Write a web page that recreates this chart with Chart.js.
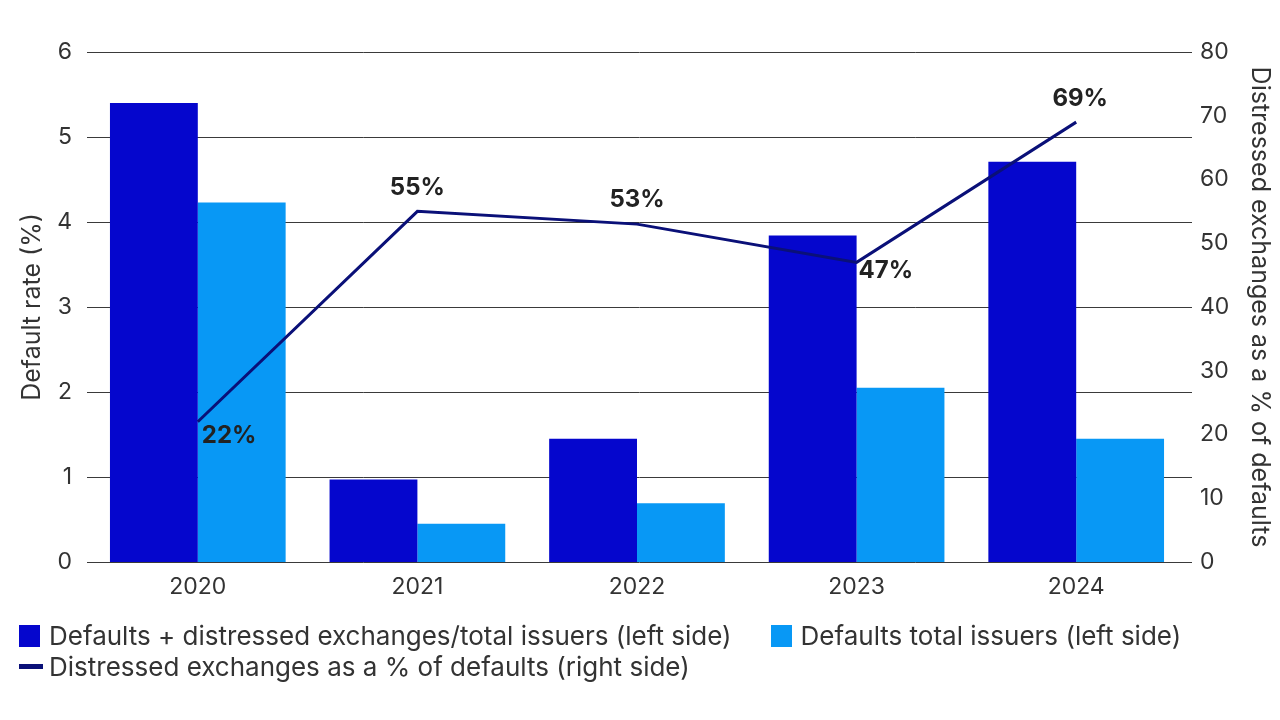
<!DOCTYPE html>
<html>
<head>
<meta charset="utf-8">
<script src="https://cdn.jsdelivr.net/npm/chart.js@4.4.1/dist/chart.umd.min.js"></script>
<style>
  html, body { margin: 0; padding: 0; background: #fff; }
  #wrap { position: relative; width: 1280px; height: 720px; }
  #legend {
    position: absolute; left: 19px; top: 620px;
    font-family: Inter, "Noto Sans", sans-serif; font-size: 26px; color: #333;
  }
  .row { display: flex; align-items: center; height: 31px; white-space: nowrap; }
  .item { display: flex; align-items: center; margin-right: 39px; }
  .sw { display: inline-block; width: 21px; height: 22px; margin-right: 9px; }
  .ln { display: inline-block; width: 24px; height: 5px; margin-right: 6px; }
</style>
</head>
<body>
<div id="wrap">
  <canvas id="chart" width="1280" height="720"></canvas>
  <div id="legend"></div>
</div>
<script>
  const years = ["2020", "2021", "2022", "2023", "2024"];
  const defaultsPlusExchanges = [5.4, 0.97, 1.45, 3.84, 4.71];
  const defaultsTotal = [4.23, 0.45, 0.69, 2.05, 1.45];
  const exchangesPctOfDefaults = [22, 55, 53, 47, 69];
  const leftTicks = [0, 1, 2, 3, 4, 5, 6];
  const rightTicks = [0, 10, 20, 30, 40, 50, 60, 70, 80];

  const colors = {
    dark: "#0506cd",
    light: "#0898f5",
    line: "#0a1078",
    grid: "#3a3a3a",
    text: "#333333"
  };

  const seriesNames = [
    "Defaults + distressed exchanges/total issuers (left side)",
    "Defaults total issuers (left side)",
    "Distressed exchanges as a % of defaults (right side)"
  ];

  // label offsets around each line point: [dx, dy, align]
  const labelPos = [
    [4, 14, "left"],
    [0, -24, "center"],
    [0, -24, "center"],
    [2, 8, "left"],
    [4, -23, "center"]
  ];

  const gridPlugin = {
    id: "extGrid",
    beforeDatasetsDraw(chart) {
      const { ctx, chartArea, scales } = chart;
      ctx.save();
      ctx.strokeStyle = colors.grid;
      ctx.lineWidth = 1;
      leftTicks.forEach(v => {
        const y = Math.round(scales.y.getPixelForValue(v)) + 0.5;
        ctx.beginPath();
        ctx.moveTo(chartArea.left - 1, y);
        ctx.lineTo(chartArea.right + 6, y);
        ctx.stroke();
      });
      ctx.restore();
    }
  };

  const labelPlugin = {
    id: "lineLabels",
    afterDatasetsDraw(chart) {
      const { ctx } = chart;
      const meta = chart.getDatasetMeta(0);
      ctx.save();
      ctx.font = "bold 24px Inter, 'Noto Sans', sans-serif";
      ctx.fillStyle = "#222";
      ctx.textBaseline = "middle";
      meta.data.forEach((pt, i) => {
        const [dx, dy, align] = labelPos[i];
        ctx.textAlign = align;
        ctx.fillText(exchangesPctOfDefaults[i] + "%", pt.x + dx, pt.y + dy);
      });
      ctx.restore();
    }
  };

  const tickFont = { family: "Inter, 'Noto Sans', sans-serif", size: 23 };
  const titleFont = { family: "Inter, 'Noto Sans', sans-serif", size: 25 };

  new Chart(document.getElementById("chart"), {
    type: "bar",
    data: {
      labels: years,
      datasets: [
        {
          type: "line", label: seriesNames[2], data: exchangesPctOfDefaults,
          yAxisID: "y1", borderColor: colors.line, borderWidth: 3,
          pointRadius: 0, tension: 0, order: 0
        },
        {
          label: seriesNames[0], data: defaultsPlusExchanges, yAxisID: "y",
          backgroundColor: colors.dark, order: 1,
          categoryPercentage: 0.8, barPercentage: 1.0
        },
        {
          label: seriesNames[1], data: defaultsTotal, yAxisID: "y",
          backgroundColor: colors.light, order: 1,
          categoryPercentage: 0.8, barPercentage: 1.0
        }
      ]
    },
    options: {
      responsive: false,
      animation: false,
      layout: { padding: { left: 0, right: 0, top: 52, bottom: 111 } },
      plugins: { legend: { display: false }, tooltip: { enabled: false } },
      scales: {
        x: {
          grid: { display: false, drawTicks: false },
          border: { display: false },
          ticks: { color: colors.text, font: tickFont, padding: 11 },
          afterFit: s => { s.height = 47; }
        },
        y: {
          position: "left", min: 0, max: 6,
          afterBuildTicks: s => { s.ticks = leftTicks.map(v => ({ value: v })); },
          afterFit: s => { s.width = 88; },
          grid: { display: false, drawTicks: false },
          border: { display: false },
          ticks: { color: colors.text, font: tickFont, padding: 16 },
          title: { display: true, text: "Default rate (%)", color: colors.text, font: titleFont, padding: { top: 17, bottom: 0 } }
        },
        y1: {
          position: "right", min: 0, max: 80,
          afterBuildTicks: s => { s.ticks = rightTicks.map(v => ({ value: v })); },
          afterFit: s => { s.width = 94; },
          grid: { display: false, drawTicks: false },
          border: { display: false },
          ticks: { color: colors.text, font: tickFont, padding: 14 },
          title: { display: true, text: "Distressed exchanges as a % of defaults", color: colors.text, font: titleFont, padding: { top: 5, bottom: 0 } }
        }
      }
    },
    plugins: [gridPlugin, labelPlugin]
  });

  // HTML legend
  const legend = document.getElementById("legend");
  legend.innerHTML =
    '<div class="row">' +
      '<span class="item"><span class="sw" style="background:' + colors.dark + '"></span>' + seriesNames[0] + '</span>' +
      '<span class="item"><span class="sw" style="background:' + colors.light + '"></span>' + seriesNames[1] + '</span>' +
    '</div>' +
    '<div class="row">' +
      '<span class="item"><span class="ln" style="background:' + colors.line + '"></span>' + seriesNames[2] + '</span>' +
    '</div>';
</script>
</body>
</html>
